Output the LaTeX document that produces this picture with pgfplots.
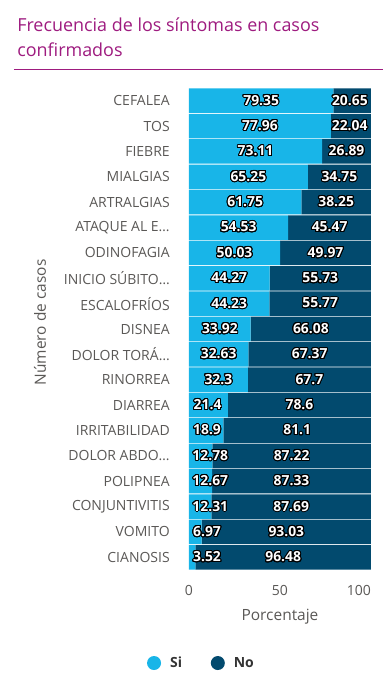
\documentclass[border=0pt]{standalone}
\usepackage{fontspec}
\setmainfont{Open Sans}
\usepackage{pgfplots}
\usepackage{pgfplotstable}
\usepackage[copies]{contour}
\pgfplotsset{compat=1.18}
\contourlength{0.75pt}
\contournumber{24}
\definecolor{siC}{HTML}{18B5E8}
\definecolor{noC}{HTML}{024A6E}
\definecolor{titC}{HTML}{9E1B7F}
\definecolor{tickC}{HTML}{5A5856}
\definecolor{legC}{HTML}{333333}

\pgfplotstableread{
y si no sipos nopos
0 79.35 20.65 39.68 88.40
1 77.96 22.04 38.98 88.30
2 73.11 26.89 36.56 86.56
3 65.25 34.75 32.63 82.63
4 61.75 38.25 30.88 80.88
5 54.53 45.47 27.27 77.27
6 50.03 49.97 25.02 75.02
7 44.27 55.73 22.14 72.14
8 44.23 55.77 22.12 72.12
9 33.92 66.08 16.96 66.96
10 32.63 67.37 16.32 66.32
11 32.3 67.7 16.15 66.15
12 21.4 78.6 10.2 60.70
13 18.9 81.1 9.9 59.45
14 12.78 87.22 11.7 56.39
15 12.67 87.33 11.7 56.34
16 12.31 87.69 11.7 56.16
17 6.97 93.03 9.9 53.49
18 3.52 96.48 9.9 51.76
}\data

\begin{document}
\begin{tikzpicture}
\pgfplotsset{
  common/.style={
    at={(0,0)}, anchor=south west,
    scale only axis,
    width=136.5pt, height=361.5pt,
    xmin=0, xmax=100,
    ymin=-0.5, ymax=18.5,
    y dir=reverse,
  }
}
\begin{axis}[
  common,
  xbar stacked,
  bar width=18.4pt,
  axis line style={draw=none},
  major tick length=0pt,
  ytick={0,...,18},
  yticklabels={CEFALEA,TOS,FIEBRE,MIALGIAS,ARTRALGIAS,ATAQUE AL E…,ODINOFAGIA,INICIO SÚBITO…,ESCALOFRÍOS,DISNEA,DOLOR TORÁ…,RINORREA,DIARREA,IRRITABILIDAD,DOLOR ABDO…,POLIPNEA,CONJUNTIVITIS,VOMITO,CIANOSIS},
  yticklabel style={inner sep=0pt, xshift=-14.25pt, font=\fontsize{10.5pt}{12pt}\selectfont, text=tickC},
  xtick={0,50,100},
  xticklabels={0,50,\makebox[0pt][r]{100}},
  xticklabel style={inner sep=0pt, yshift=-11.6pt, font=\fontsize{10.5pt}{12pt}\selectfont, text=tickC},
  xlabel={Porcentaje},
  ylabel={Número de casos},
  every axis x label/.style={at={(axis description cs:0.5,-0.0975)}, anchor=center, font=\fontsize{11.6pt}{13pt}\selectfont, text=tickC},
  every axis y label/.style={at={(axis description cs:-0.8187,0.5135)}, anchor=center, rotate=90, font=\fontsize{11.6pt}{13pt}\selectfont, text=tickC},
  legend style={at={(axis description cs:0.063,-0.193)}, anchor=center, draw=none, fill=none, inner sep=0pt,
    nodes={inner sep=0pt},
    legend columns=2, font=\bfseries\fontsize{10.5pt}{12pt}\selectfont, text=legC,
    /tikz/every odd column/.append style={column sep=6.75pt},
    /tikz/every even column/.append style={column sep=21.6pt}},
  legend image code/.code={\fill[#1] (5.25pt,0pt) circle (5.25pt);},
]
\addplot[fill=siC, draw=none] table[x=si, y=y] {\data};
\addlegendentry{Si}
\addplot[fill=noC, draw=none] table[x=no, y=y] {\data};
\addlegendentry{No}
\end{axis}
\begin{axis}[
  common,
  hide axis,
  nodes near coords={\contour{black}{\pgfplotspointmeta}},
  nodes near coords align=center,
  every node near coord/.append style={anchor=center, text=white, font=\bfseries\fontsize{10.4pt}{12pt}\selectfont},
  point meta=explicit symbolic,
]
\addplot[draw=none, mark=none] table[x=sipos, y=y, meta=si] {\data};
\addplot[draw=none, mark=none] table[x=nopos, y=y, meta=no] {\data};
\end{axis}
\begin{scope}[x=0.75pt, y=-0.75pt, shift={(-141.75pt,427.5pt)}]
  \node[anchor=base west, inner sep=0pt, text=titC, font=\fontsize{13.45pt}{15pt}\selectfont] at (17,31.7) {Frecuencia de los síntomas en casos};
  \node[anchor=base west, inner sep=0pt, text=titC, font=\fontsize{13.45pt}{15pt}\selectfont] at (17,56.7) {confirmados};
  \draw[titC, line width=1pt] (14,69.3) -- (383,69.3);
  \pgfresetboundingbox
  \useasboundingbox (0,0) rectangle (389,694);
\end{scope}
\end{tikzpicture}
\end{document}
